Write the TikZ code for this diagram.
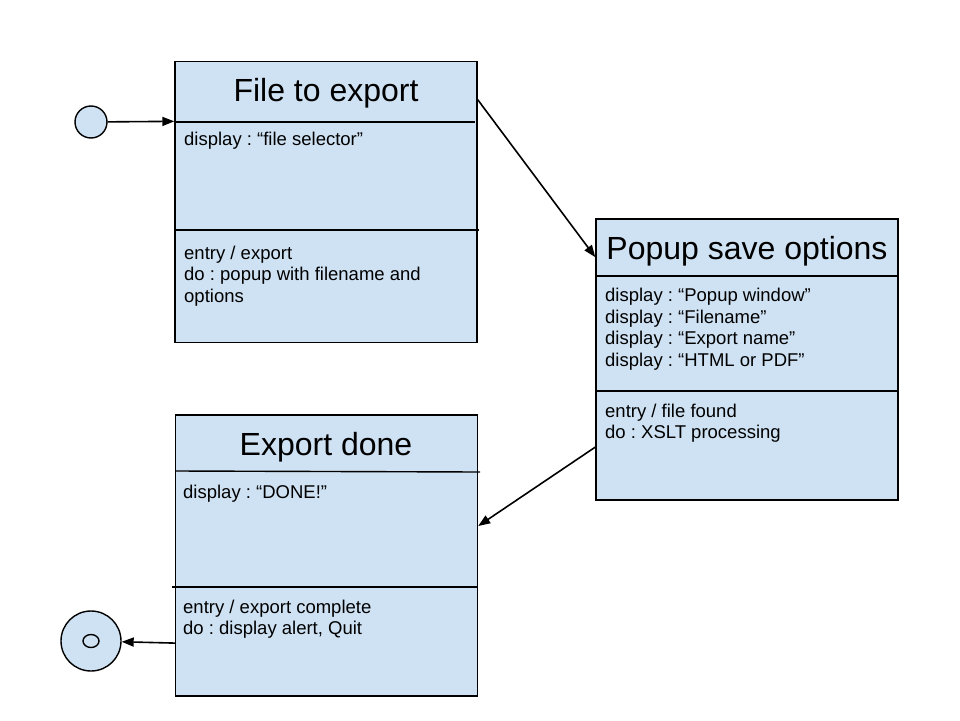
\documentclass[tikz,border=0pt]{standalone}
\usepackage{fontspec}
\setmainfont{Liberation Sans}
\usetikzlibrary{arrows.meta}
\definecolor{stateblue}{HTML}{CFE2F3}
\newcommand{\ttl}{\fontsize{32}{36}\selectfont}
\newcommand{\txt}{\fontsize{18.5}{21.5}\selectfont\frenchspacing}

\begin{document}
\begin{tikzpicture}[x=1pt,y=-1pt,
   state/.style={draw,fill=stateblue,line width=1.4pt,minimum width=302pt,minimum height=281pt,inner sep=0pt},
   trans/.style={line width=1.6pt,-{Triangle[length=12pt,width=9pt]}},
   title/.style={anchor=base,inner sep=0pt,font=\ttl},
   lbl/.style={anchor=base west,align=left,inner sep=0pt,font=\txt}]
   \useasboundingbox (0,0) rectangle (960,720);
   % states
   \node[state] (file)  at (326,202) {};
   \node[state] (popup) at (747,359.5) {};
   \node[state] (done)  at (326.5,555.5) {};
   \node[circle,draw,fill=stateblue,line width=1.4pt,minimum size=32pt,inner sep=0pt] (init) at (91,122) {};
   \node[circle,draw,fill=stateblue,line width=1.4pt,minimum size=60pt,inner sep=0pt] (final) at (91,641) {};
   \draw[line width=1.4pt] (final) ellipse[x radius=8pt,y radius=6.5pt];
   % dividers
   \draw[line width=1.4pt] (175,122) -- (475,122);
   \draw[line width=1.4pt] (175,230) -- (479,230);
   \draw[line width=1.4pt] (596,276) -- (898,276);
   \draw[line width=1.4pt] (596,391) -- (898,391);
   \draw[line width=1.4pt] (176,471) -- (480,472);
   \draw[line width=1.4pt] (172,587) -- (477,587);
   % titles
   \node[title] (filet)  at (326,101) {File to export};
   \node[title] (popupt) at (747,259) {Popup save options};
   \node[title] (donet)  at (326,455) {Export done};
   % bodies (base = last line)
   \node[lbl] (filea)  at (184,145) {display : “file selector”};
   \node[lbl] (fileb)  at (184,302) {entry / export\\do : popup with filename and\\options};
   \node[lbl] (popupa) at (605,366) {display : “Popup window”\\display : “Filename”\\display : “Export name”\\display : “HTML or PDF”};
   \node[lbl] (popupb) at (605,438.5) {entry / file found\\do : XSLT processing};
   \node[lbl] (donea)  at (183,498) {display : “DONE!”};
   \node[lbl] (doneb)  at (183,634.5) {entry / export complete\\do : display alert, Quit};
   % transitions
   \draw[trans] (init) -- (file.152);
   \draw[trans] (file.34) -- (popup.146);
   \draw[trans] (popup.210) -- (done.11);
   \draw[trans] (done.210) -- (final);
\end{tikzpicture}
\end{document}
